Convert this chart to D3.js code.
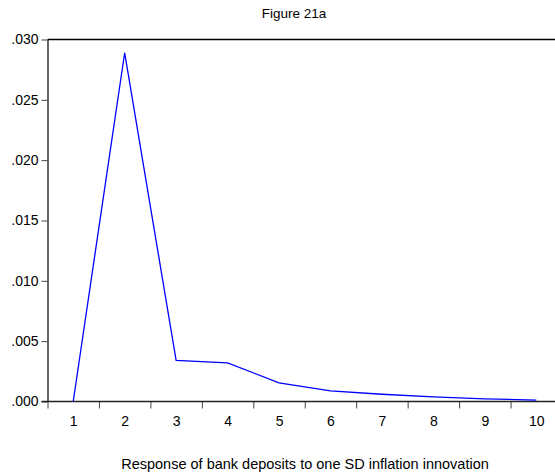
<!DOCTYPE html>
<html>
<head>
<meta charset="utf-8">
<script src="https://cdn.jsdelivr.net/npm/d3@7/dist/d3.min.js"></script>
<style>
  body { margin: 0; background: #fff; }
  text { font-family: "Liberation Sans", Arial, sans-serif; fill: #000; }
</style>
</head>
<body>
<div id="chart-container"></div>
<script>
// Periods and impulse response values
const periods = [1, 2, 3, 4, 5, 6, 7, 8, 9, 10];
const response = [0, 0.0289, 0.0034, 0.0032, 0.00155, 0.00088, 0.0006, 0.00038, 0.00022, 0.00012];
const yTicks = [0, 0.005, 0.010, 0.015, 0.020, 0.025, 0.030];
const title = 'Figure 21a';
const xTitle = 'Response of bank deposits to one SD inflation innovation';

window.onload = () => {
  const width = 555;
  const height = 475;
  const margin = { left: 47.5, top: 39.5, bottom: 73.5 };
  const step = 51.45;

  const svg = d3.select('div#chart-container')
    .append('svg')
    .attr('width', width)
    .attr('height', height);

  const x = d3.scaleLinear()
    .domain([0.5, 10.5])
    .range([margin.left, margin.left + step * 10]);

  const y = d3.scaleLinear()
    .domain([0, 0.03])
    .range([height - margin.bottom, margin.top]);

  // frame: top and left edges
  svg.append('line')
    .attr('x1', margin.left).attr('x2', width)
    .attr('y1', y(0.03)).attr('y2', y(0.03))
    .attr('stroke', '#000').attr('stroke-width', 1.3);

  const yAxis = d3.axisLeft(y)
    .tickValues(yTicks)
    .tickSize(6)
    .tickSizeOuter(0)
    .tickPadding(3)
    .tickFormat(d => d3.format('.3f')(d).replace(/^0/, ''));

  const gy = svg.append('g')
    .attr('transform', `translate(${margin.left},0)`)
    .call(yAxis);
  gy.select('.domain').attr('stroke', '#000').attr('stroke-width', 1.2);
  gy.selectAll('.tick line').attr('stroke', '#444');
  gy.selectAll('text').style('font-size', '14px');

  // x tick marks at period boundaries
  const xMarks = d3.axisBottom(x)
    .tickValues(periods.map(p => p - 0.5))
    .tickSize(7)
    .tickSizeOuter(0)
    .tickFormat('');

  const gx = svg.append('g')
    .attr('transform', `translate(0,${y(0)})`)
    .call(xMarks);
  gx.select('.domain').remove();
  gx.selectAll('.tick line').attr('stroke', '#444');

  svg.append('line')
    .attr('x1', margin.left - 6).attr('x2', width)
    .attr('y1', y(0)).attr('y2', y(0))
    .attr('stroke', '#222').attr('stroke-width', 1.3);

  // x labels centred on each period
  const xLabels = d3.axisBottom(x)
    .tickValues(periods)
    .tickSize(0)
    .tickPadding(15)
    .tickFormat(d3.format('d'));

  const gl = svg.append('g')
    .attr('transform', `translate(0,${y(0)})`)
    .call(xLabels);
  gl.select('.domain').remove();
  gl.selectAll('text').style('font-size', '14px');

  const line = d3.line()
    .x((d, i) => x(periods[i]))
    .y(d => y(d));

  svg.append('path')
    .datum(response)
    .attr('fill', 'none')
    .attr('stroke', '#0000ff')
    .attr('stroke-width', 1.3)
    .attr('d', line);

  svg.append('text')
    .attr('x', 294)
    .attr('y', 18)
    .attr('text-anchor', 'middle')
    .style('font-size', '13.5px')
    .text(title);

  svg.append('text')
    .attr('x', 305)
    .attr('y', 469)
    .attr('text-anchor', 'middle')
    .style('font-size', '14.5px')
    .text(xTitle);
};
</script>
</body>
</html>
